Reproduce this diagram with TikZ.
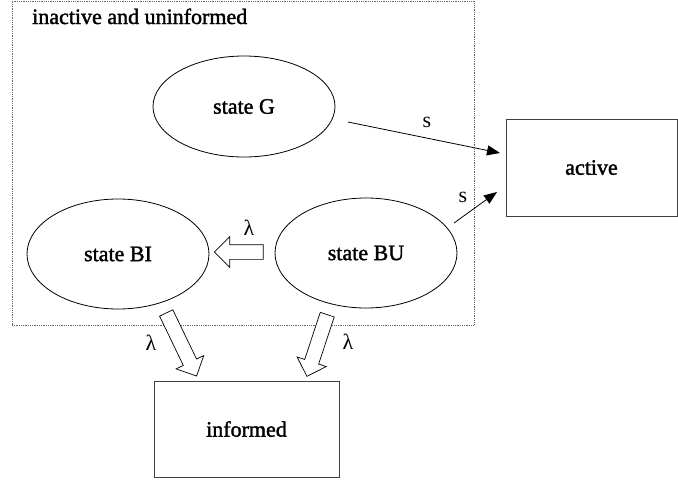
\documentclass[tikz,border=0pt]{standalone}
\usepackage{fontspec}
\setmainfont{Liberation Serif}
\newfontfamily\semibold[FakeBold=1.6]{Liberation Serif}
\usetikzlibrary{shapes.geometric,shapes.arrows,arrows.meta}
\begin{document}
\begin{tikzpicture}[x=1pt,y=-1pt,
  txt/.style={font=\fontsize{22}{26}\selectfont},
  head/.style={font=\semibold\fontsize{22}{26}\selectfont},
  stateell/.style={ellipse, draw, line width=0.8pt, minimum width=182pt, inner sep=0pt, head},
  statebox/.style={rectangle, draw=black!75, line width=1pt, inner sep=0pt, head},
  blockarrow/.style={single arrow, draw, line width=0.7pt, fill=white, inner xsep=0pt, inner ysep=7pt,
    minimum width=0pt, single arrow head extend=8pt, single arrow tip angle=90, anchor=center},
  conn/.style={line width=0.8pt, -{Triangle[length=13pt,width=10pt]}},
  lbl/.style={txt, inner sep=0pt}
]
\useasboundingbox (0,0) rectangle (678,483);
% dotted region
\node[draw=black!60, densely dotted, line width=0.8pt, minimum width=462pt, minimum height=324pt, inner sep=0pt] (region) at (243,163) {};
\node[head, anchor=base west, inner sep=0pt] (title) at (32,24) {inactive and uninformed};
% states
\node[stateell, minimum height=101pt] (G) at (244,106.5) {state G};
\node[stateell, minimum height=110pt] (BI) at (118,254) {state BI};
\node[stateell, minimum height=110pt] (BU) at (366,253) {state BU};
% boxes
\node[statebox, minimum width=171pt, minimum height=97pt] (active) at (591.5,167.5) {active};
\node[statebox, minimum width=185pt, minimum height=96pt] (informed) at (246.5,429) {informed};
% s connectors
\coordinate (gs) at (348,122);
\coordinate (ga) at (500,153);
\coordinate (bus) at (454,223);
\coordinate (bua) at (497,192);
\draw[conn] (gs) -- (ga);
\draw[conn] (bus) -- (bua);
\node[lbl] (s1) at (427,122) {s};
\node[lbl] (s2) at (463,197) {s};
% block arrows (lambda)
\node[blockarrow, minimum height=49pt, rotate=180] (l1) at (242.5,252) {};
\node[blockarrow, minimum height=70pt, rotate=-64.3] (l2) at (179.8,341.2) {};
\node[blockarrow, minimum height=65pt, rotate=-108.3] (l3) at (318.2,342) {};
\node[lbl] (lam1) at (249,228) {λ};
\node[lbl] (lam2) at (151,343) {λ};
\node[lbl] (lam3) at (348,342) {λ};
\end{tikzpicture}
\end{document}
